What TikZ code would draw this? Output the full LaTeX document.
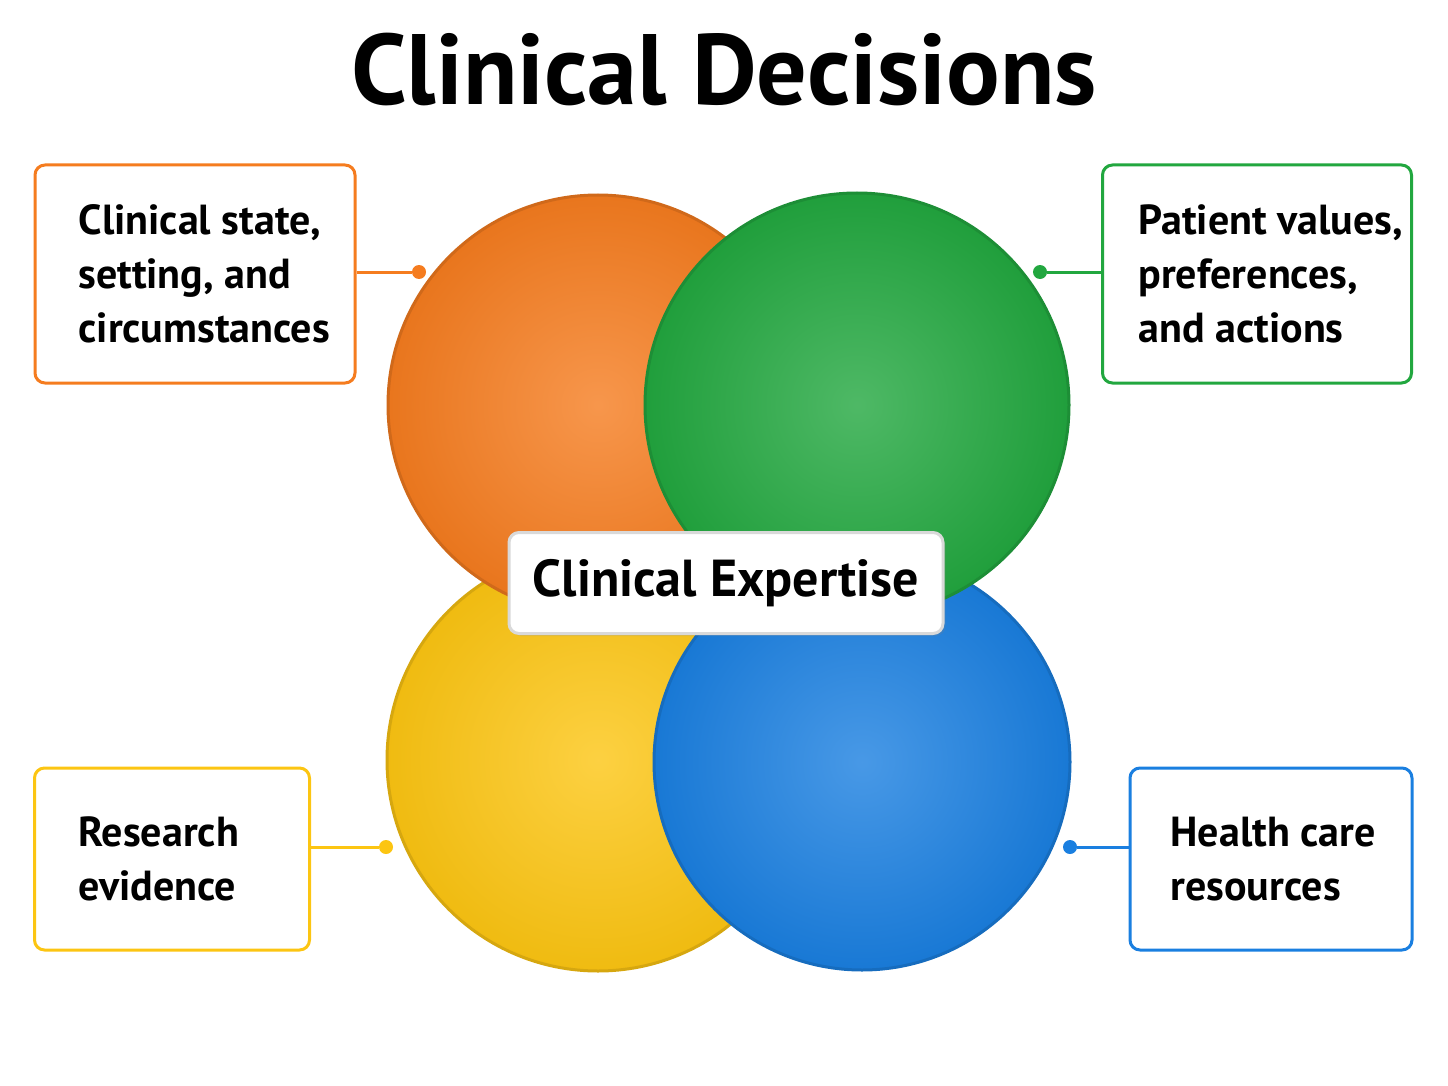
\documentclass[tikz,border=0pt]{standalone}
\usepackage{fontspec}
\setmainfont{PT Sans}
\usetikzlibrary{shadows}
\begin{document}
\begin{tikzpicture}[x=1pt,y=-1pt,
  circ/.style={line width=3pt},
  box/.style={draw,line width=3pt,rounded corners=10pt,fill=white},
  lab/.style={font=\fontsize{42}{54}\selectfont\bfseries,align=left,anchor=west},
  dot/.style={circle,inner sep=0pt,minimum size=14pt}]
\definecolor{cor}{HTML}{F57C1F}\definecolor{cgr}{HTML}{22A73F}
\definecolor{cye}{HTML}{FCC512}\definecolor{cbl}{HTML}{1A7FE0}
\useasboundingbox (0,0) rectangle (1448,1086);
\node[font=\fontsize{100}{110}\selectfont\bfseries] (title) at (724,70) {Clinical Decisions};
\shade[inner color=cye!80!white,outer color=cye!95!black,draw=cye!85!black,circ] (598,760) circle (211);
\shade[inner color=cbl!80!white,outer color=cbl!95!black,draw=cbl!85!black,circ] (862,762) circle (208);
\shade[inner color=cor!80!white,outer color=cor!95!black,draw=cor!85!black,circ] (598,405) circle (210);
\shade[inner color=cgr!80!white,outer color=cgr!95!black,draw=cgr!85!black,circ] (857,405) circle (212);
\node[box,draw=white!85!black,drop shadow={opacity=0.2},minimum width=434pt,minimum height=101pt] (ce) at (726,583) {};
\node[font=\fontsize{52}{60}\selectfont\bfseries] at (ce) {Clinical Expertise};
% boxes
\node[box,draw=cor,minimum width=320pt,minimum height=218pt] (b1) at (195,274) {};
\node[lab] at (75,274) {Clinical state,\\setting, and\\circumstances};
\node[box,draw=cgr,minimum width=309pt,minimum height=218pt] (b2) at (1257,274) {};
\node[lab] at (1135,274) {Patient values,\\preferences,\\and actions};
\node[box,draw=cye,minimum width=275pt,minimum height=182pt] (b3) at (172,859) {};
\node[lab] at (75,859) {Research\\evidence};
\node[box,draw=cbl,minimum width=282pt,minimum height=182pt] (b4) at (1271,859) {};
\node[lab] at (1167,859) {Health care\\resources};
\node[dot,fill=cor] (d1) at (419,272) {};
\node[dot,fill=cgr] (d2) at (1040,272) {};
\node[dot,fill=cye] (d3) at (386,847) {};
\node[dot,fill=cbl] (d4) at (1070,847) {};
\draw[cor,line width=3pt] (b1.east|-d1) -- (d1);
\draw[cgr,line width=3pt] (b2.west|-d2) -- (d2);
\draw[cye,line width=3pt] (b3.east|-d3) -- (d3);
\draw[cbl,line width=3pt] (b4.west|-d4) -- (d4);
\end{tikzpicture}
\end{document}
